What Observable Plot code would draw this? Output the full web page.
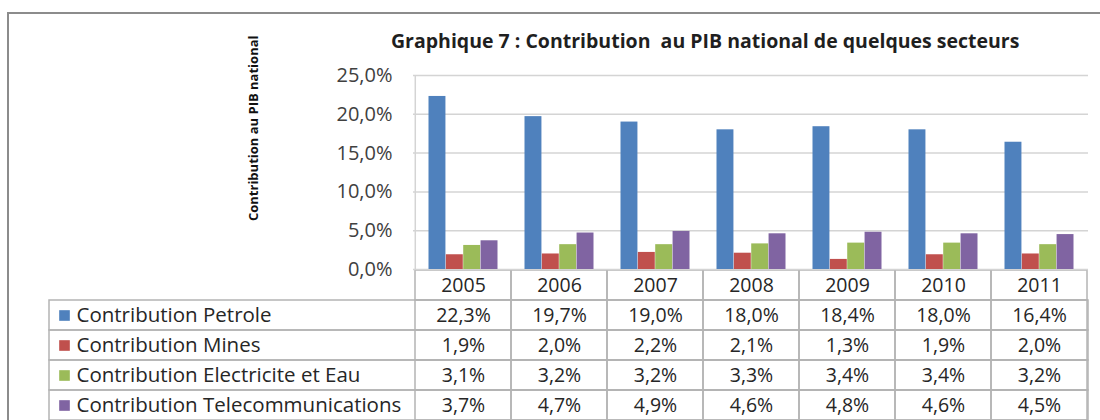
<!DOCTYPE html>
<html>
<head>
<meta charset="utf-8">
<script src="https://cdn.jsdelivr.net/npm/d3@7"></script>
<script src="https://cdn.jsdelivr.net/npm/@observablehq/plot@0.6"></script>
<style>
  html, body { margin: 0; padding: 0; background: #fff; }
  #chart { position: relative; width: 1100px; height: 420px; overflow: hidden; font-family: "Open Sans", sans-serif; }
  #frame { position: absolute; left: 7px; top: 12px; width: 1200px; height: 600px; border: 2px solid #8c8c8c; box-sizing: border-box; }
  #title { position: absolute; left: 391px; top: 28px; white-space: pre; font-weight: bold; font-size: 19.5px; line-height: 26px; color: #1f1f1f; }
  #plotA { position: absolute; left: 0; top: 0; }
  #plotB { position: absolute; left: 0; top: 268px; }
</style>
</head>
<body>
<div id="chart">
  <div id="frame"></div>
  <div id="plotB"></div>
  <div id="plotA"></div>
  <div id="title"></div>
</div>
<script>
const years = ["2005", "2006", "2007", "2008", "2009", "2010", "2011"];
const series = ["Contribution Petrole", "Contribution Mines", "Contribution Electricite et Eau", "Contribution Telecommunications"];
const petrole = [22.3, 19.7, 19.0, 18.0, 18.4, 18.0, 16.4];
const mines = [1.9, 2.0, 2.2, 2.1, 1.3, 1.9, 2.0];
const electricite = [3.1, 3.2, 3.2, 3.3, 3.4, 3.4, 3.2];
const telecom = [3.7, 4.7, 4.9, 4.6, 4.8, 4.6, 4.5];
const colors = ["#4F81BD", "#C0504D", "#9BBB59", "#8064A2"];
const yTicks = [0, 5, 10, 15, 20, 25];
const titleText = "Graphique 7 : Contribution  au PIB national de quelques secteurs";
const yLabel = "Contribution au PIB national";

const values = [petrole, mines, electricite, telecom];
const rows = series.flatMap((s, i) => years.map((y, j) => ({series: s, year: y, value: values[i][j]})));
const fmt = v => v.toFixed(1).replace(".", ",") + "%";

const W = 1100, mL = 413, mR = 12;
const bw = (W - mL - mR) / years.length;
const groupPad = bw * 0.14;
const barW = bw * 0.72 / series.length;
const gridColor = "#d4d4d4";
const tableColor = "#b4b4b4";
const font = "Open Sans";

document.getElementById("title").textContent = titleText;

const chartA = Plot.plot({
  width: W, height: 272,
  marginLeft: mL, marginRight: mR, marginTop: 75, marginBottom: 3,
  style: {background: "transparent", overflow: "visible", fontFamily: font},
  x: {domain: years, padding: 0, axis: null},
  y: {domain: [0, 25], axis: null},
  color: {domain: series, range: colors},
  marks: [
    Plot.ruleY(yTicks, {stroke: gridColor, strokeWidth: 1.5}),
    Plot.ruleX([years[0]], {dx: -bw / 2, y1: 0, y2: 25, stroke: gridColor, strokeWidth: 1.5}),
    ...series.map((s, i) => Plot.barY(rows.filter(d => d.series === s), {
      x: "year", y: "value", fill: "series",
      insetLeft: groupPad + i * barW,
      insetRight: groupPad + (series.length - 1 - i) * barW
    })),
    Plot.axisY({ticks: yTicks, tickFormat: fmt, tickSize: 0, tickPadding: 21, fontSize: 20, fill: "#404040", label: null}),
    Plot.text([yLabel], {frameAnchor: "top-left", rotate: -90, textAnchor: "end", dx: -165, dy: -40,
      fontWeight: "bold", fontSize: 13, fill: "#111"})
  ]
});
document.getElementById("plotA").append(chartA);

const rowKeys = ["header", ...series];
const cellData = years.flatMap(y => rowKeys.map(r => ({year: y, row: r})));

const chartB = Plot.plot({
  width: W, height: 153,
  marginLeft: mL, marginRight: mR, marginTop: 1, marginBottom: 0,
  style: {background: "transparent", overflow: "visible", fontFamily: font},
  x: {domain: years, padding: 0, axis: null},
  y: {domain: rowKeys, padding: 0, axis: null},
  color: {domain: series, range: colors},
  marks: [
    Plot.cell(series, {y: d => d, insetLeft: -(mL - 49), fill: "none", stroke: tableColor, strokeWidth: 1.5}),
    Plot.cell(cellData, {x: "year", y: "row", fill: "none", stroke: tableColor, strokeWidth: 1.5}),
    Plot.text(years, {x: d => d, y: () => "header", text: d => d, fontSize: 19.5, fill: "#262626"}),
    Plot.text(rows, {x: "year", y: "series", text: d => fmt(d.value), fontSize: 19.5, fill: "#262626"}),
    Plot.dot(series, {y: d => d, frameAnchor: "left", dx: -(mL - 64), symbol: "square", fill: d => d, r: 6}),
    Plot.text(series, {y: d => d, frameAnchor: "left", dx: -(mL - 76), textAnchor: "start", text: d => d, fontSize: 20.5, fill: "#262626"})
  ]
});
document.getElementById("plotB").append(chartB);
</script>
</body>
</html>
